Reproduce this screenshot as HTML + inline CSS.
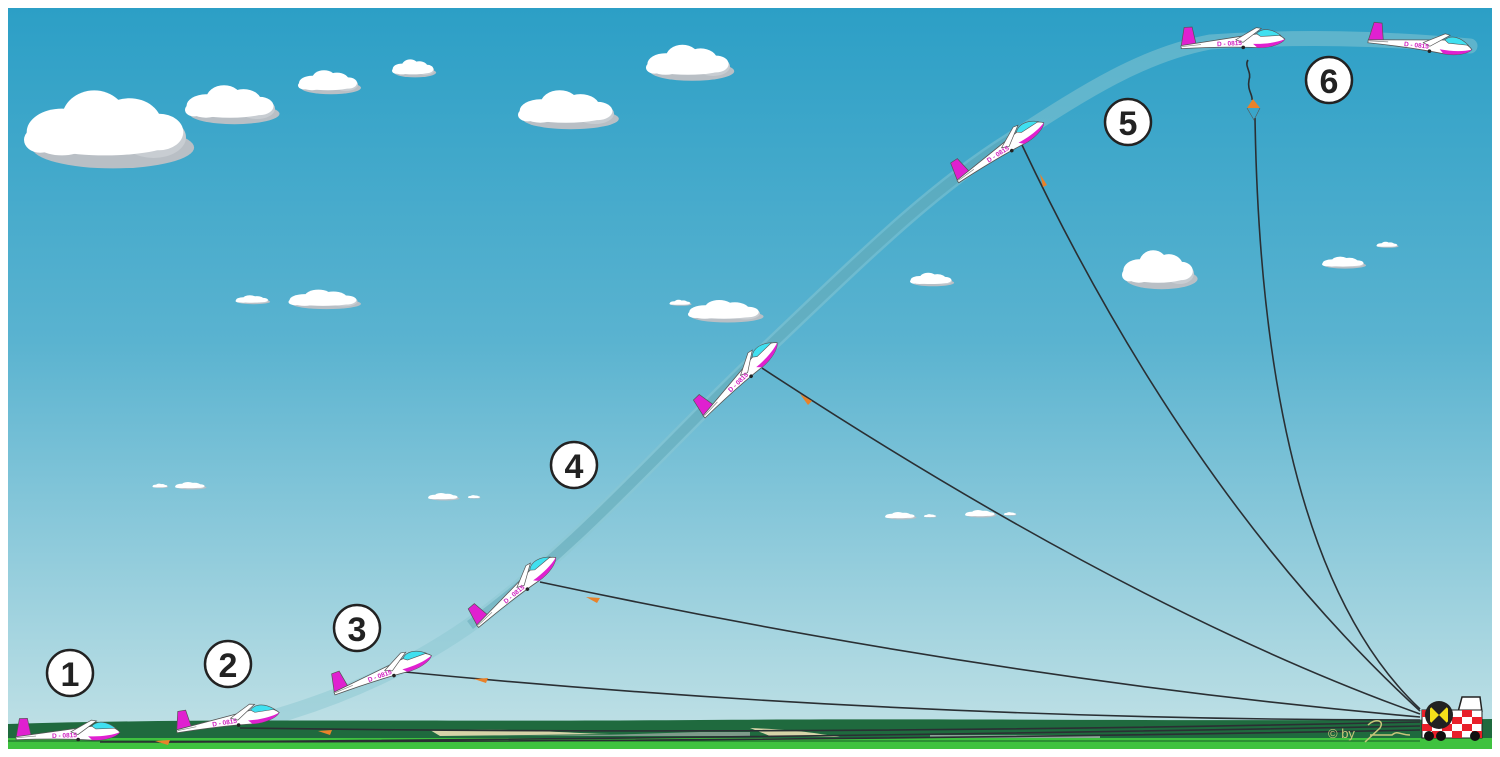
<!DOCTYPE html>
<html><head><meta charset="utf-8"><style>
html,body{margin:0;padding:0;background:#fff;width:1500px;height:757px;overflow:hidden}
svg{display:block}
</style></head><body>
<svg width="1500" height="757" viewBox="0 0 1500 757" xmlns="http://www.w3.org/2000/svg">
<defs>
<linearGradient id="sky" x1="0" y1="0" x2="0" y2="1">
<stop offset="0" stop-color="#2c9fc6"/>
<stop offset="0.45" stop-color="#5ab3d0"/>
<stop offset="1" stop-color="#c3e2e6"/>
</linearGradient>
<g id="gl">
<path d="M-50,1 L-46,-18 L-38,-18 L-35,-1 Z" fill="#e020d0" stroke="#555" stroke-width="0.7"/>
<path d="M-50,0 C-20,-3 10,-6 28,-8 C40,-10 50,-6 54,-1 C50,4 38,7 26,6 C5,4 -20,3 -50,3 Z" fill="#fff" stroke="#555" stroke-width="0.8"/>
<path d="M22,2 C34,3 46,2 54,-1 C50,4 38,7 26,6 Z" fill="#e020d0"/>
<path d="M26,-8 C32,-14 42,-12 50,-5 L30,-5 Z" fill="#40e0f0" stroke="#555" stroke-width="0.6"/>
<path d="M5,-3 L26,-14 L31,-13 L12,0 Z" fill="#fff" stroke="#555" stroke-width="0.7"/>
<line x1="-49" y1="1" x2="-30" y2="0" stroke="#888" stroke-width="0.7"/>
<text x="-14" y="2.5" font-family="Liberation Sans, sans-serif" font-size="6.5" font-weight="bold" fill="#d020c0">D - 0815</text>
<circle cx="12" cy="5" r="1.8" fill="#222"/>
</g>
<g id="cl">
<ellipse cx="3" cy="6" rx="30" ry="8" fill="#b9bfc5"/>
<ellipse cx="18" cy="2" rx="12" ry="8" fill="#c8cdd2"/>
<ellipse cx="-16" cy="0" rx="13" ry="9" fill="#fff"/>
<ellipse cx="-4" cy="-5" rx="12" ry="11" fill="#fff"/>
<ellipse cx="9" cy="-3" rx="12" ry="10" fill="#fff"/>
<ellipse cx="20" cy="0" rx="9" ry="7" fill="#fff"/>
<ellipse cx="0" cy="3" rx="26" ry="6" fill="#fff"/>
<ellipse cx="-24" cy="3" rx="6" ry="5" fill="#fff"/>
</g>
</defs>
<rect x="8" y="8" width="1484" height="741" fill="url(#sky)"/>
<!-- clouds -->
<use href="#cl" transform="translate(105,132) scale(2.7,2.6)"/>
<use href="#cl" transform="translate(230,106) scale(1.5,1.3)"/>
<use href="#cl" transform="translate(328,83) scale(1,0.8)"/>
<use href="#cl" transform="translate(413,69) scale(0.7,0.6)"/>
<use href="#cl" transform="translate(566,111) scale(1.6,1.3)"/>
<use href="#cl" transform="translate(688,64) scale(1.4,1.2)"/>
<use href="#cl" transform="translate(1158,271) scale(1.2,1.3)"/>
<use href="#cl" transform="translate(252,300) scale(0.55,0.3)"/>
<use href="#cl" transform="translate(323,300) scale(1.15,0.65)"/>
<use href="#cl" transform="translate(680,303) scale(0.35,0.2)"/>
<use href="#cl" transform="translate(724,312) scale(1.2,0.75)"/>
<use href="#cl" transform="translate(931,280) scale(0.7,0.45)"/>
<use href="#cl" transform="translate(1343,263) scale(0.7,0.4)"/>
<use href="#cl" transform="translate(1387,245) scale(0.35,0.2)"/>
<use href="#cl" transform="translate(160,486) scale(0.25,0.15)"/>
<use href="#cl" transform="translate(190,486) scale(0.5,0.25)"/>
<use href="#cl" transform="translate(443,497) scale(0.5,0.25)"/>
<use href="#cl" transform="translate(474,497) scale(0.2,0.12)"/>
<use href="#cl" transform="translate(900,516) scale(0.5,0.25)"/>
<use href="#cl" transform="translate(930,516) scale(0.2,0.12)"/>
<use href="#cl" transform="translate(980,514) scale(0.5,0.25)"/>
<use href="#cl" transform="translate(1010,514) scale(0.2,0.12)"/>
<!-- trail -->
<path d="M120,738 C170,736 240,728 290,712 C360,690 420,660 470,625 C580,545 660,450 760,355 C860,260 930,190 1010,140 C1080,95 1140,55 1210,42 C1300,36 1380,38 1470,46" fill="none" stroke="#8cc8d2" stroke-opacity="0.5" stroke-width="15" stroke-linecap="round"/>
<path d="M470,625 C580,545 660,450 760,355 C860,260 930,190 1010,140" fill="none" stroke="#3e8fa0" stroke-opacity="0.3" stroke-width="10"/>
<!-- ground -->
<path d="M8,724 C200,718 400,722 700,720 C1000,718 1200,722 1492,719 L1492,740 L8,740 Z" fill="#1f6a3e"/>
<path d="M430,730 C520,728 560,733 610,734 L440,736 Z" fill="#d6d3a8"/>
<path d="M750,728 C800,730 820,734 840,737 L770,736 Z" fill="#d6d3a8"/>
<path d="M440,736 C600,736 630,734 700,732 L750,732 L750,736 Z" fill="#7e9b8a"/>
<path d="M930,735 L1100,735 L1100,738 L930,738 Z" fill="#8aa596"/>
<rect x="8" y="738" width="1484" height="11" fill="#3fc23f"/>
<line x1="8" y1="741" x2="1420" y2="741" stroke="#1a5c2a" stroke-width="1"/>
<!-- cables -->
<g fill="none" stroke="#2a2f33" stroke-width="1.6">
<path d="M100,742 Q800,742 1420,730"/>
<path d="M160,742 Q800,738 1420,726"/>
<path d="M240,728 Q800,736 1420,722"/>
<path d="M405,672 Q900,720 1420,720"/>
<path d="M540,582 Q1000,680 1420,717"/>
<path d="M762,368 Q1130,610 1420,714"/>
<path d="M1022,145 Q1190,500 1420,711"/>
<path d="M1255,118 Q1262,560 1420,709"/>
<path d="M1248,60 C1244,66 1252,72 1249,80 C1247,90 1253,95 1252,100"/>
</g>
<!-- cable markers -->
<g fill="#e9822a">
<path d="M474,679 L488,678 L486,683 Z"/>
<path d="M586,597 L600,598 L597,603 Z"/>
<path d="M800,394 L812,401 L808,405 Z"/>
<path d="M1040,174 L1047,185 L1043,187 Z"/>
<path d="M318,731 L332,730 L330,735 Z"/>
<path d="M155,741 L170,740 L168,745 Z"/>
<path d="M1247,108 L1253,99 L1260,108 Z"/>
</g>
<path d="M1247,108 L1254,120 L1260,108" fill="none" stroke="#555" stroke-width="0.6"/>
<!-- gliders -->
<use href="#gl" transform="translate(66,735) rotate(-2)"/>
<use href="#gl" transform="translate(226,722) rotate(-9)"/>
<use href="#gl" transform="translate(381,675) rotate(-20)"/>
<use href="#gl" transform="translate(515,593) rotate(-40)"/>
<use href="#gl" transform="translate(739,381) rotate(-44)"/>
<use href="#gl" transform="translate(999,153) rotate(-33)"/>
<use href="#gl" transform="translate(1231,43) rotate(-3)"/>
<use href="#gl" transform="translate(1418,45) rotate(6)"/>
<!-- number circles -->
<g font-family="Liberation Sans, sans-serif" font-weight="bold" font-size="34" fill="#222" text-anchor="middle">
<circle cx="70" cy="673" r="23" fill="#fff" stroke="#222" stroke-width="2.5"/><text x="70" y="686">1</text>
<circle cx="228" cy="664" r="23" fill="#fff" stroke="#222" stroke-width="2.5"/><text x="228" y="677">2</text>
<circle cx="357" cy="628" r="23" fill="#fff" stroke="#222" stroke-width="2.5"/><text x="357" y="641">3</text>
<circle cx="574" cy="465" r="23" fill="#fff" stroke="#222" stroke-width="2.5"/><text x="574" y="478">4</text>
<circle cx="1128" cy="122" r="23" fill="#fff" stroke="#222" stroke-width="2.5"/><text x="1128" y="135">5</text>
<circle cx="1329" cy="80" r="23" fill="#fff" stroke="#222" stroke-width="2.5"/><text x="1329" y="93">6</text>
</g>
<!-- winch -->
<path d="M1458,712 L1462,697 L1480,697 L1482,712" fill="#fff" stroke="#222" stroke-width="1.5"/>
<rect x="1422" y="710" width="60" height="28" fill="#fff" stroke="#222" stroke-width="1"/>
<g fill="#e8202a">
<rect x="1422" y="710" width="10" height="7"/><rect x="1442" y="710" width="10" height="7"/><rect x="1462" y="710" width="10" height="7"/>
<rect x="1432" y="717" width="10" height="7"/><rect x="1452" y="717" width="10" height="7"/><rect x="1472" y="717" width="10" height="7"/>
<rect x="1422" y="724" width="10" height="7"/><rect x="1442" y="724" width="10" height="7"/><rect x="1462" y="724" width="10" height="7"/>
<rect x="1432" y="731" width="10" height="7"/><rect x="1452" y="731" width="10" height="7"/><rect x="1472" y="731" width="10" height="7"/>
</g>
<circle cx="1439" cy="715" r="14" fill="#222"/>
<path d="M1430,706 L1448,724 L1448,706 L1430,724 Z" fill="#f3e01a"/>
<circle cx="1439" cy="715" r="12" fill="none" stroke="#222" stroke-width="2"/>
<circle cx="1429" cy="736" r="5" fill="#111"/><circle cx="1441" cy="736" r="5" fill="#111"/><circle cx="1475" cy="736" r="5" fill="#111"/>
<text x="1328" y="738" font-family="Liberation Sans, sans-serif" font-size="13" fill="#c8c67a">© by</text>
<path d="M1365,742 L1380,728 C1385,720 1375,718 1368,725 M1370,735 L1392,735 C1398,730 1400,735 1410,735" fill="none" stroke="#c8c67a" stroke-width="1.5"/>
</svg>
</body></html>
